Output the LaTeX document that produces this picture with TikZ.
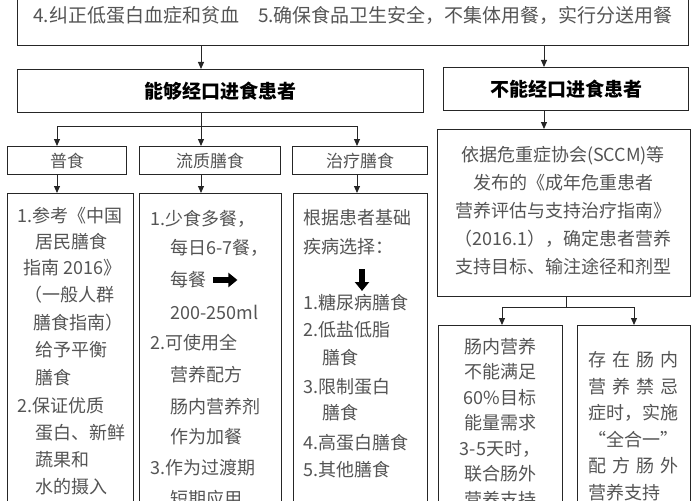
\documentclass[tikz,border=0pt]{standalone}
\usepackage{fontspec}
\setmainfont{Noto Sans CJK SC}
\usetikzlibrary{arrows.meta,positioning}

\begin{document}
\begin{tikzpicture}[x=1pt,y=-1pt,
    box/.style={draw=kLine,line width=1pt,inner sep=0pt,anchor=north west},
    link/.style={draw=kLine,line width=1pt},
    arr/.style={link,-{Triangle[length=7pt,width=6pt]}},
    fat/.style={draw=black,line width=6pt,-{Triangle[length=9pt,width=14pt]}},
    body/.style={text=kText,inner sep=0pt,font=\fontsize{18}{18}\selectfont},
    label/.style={text=kText,font=\fontsize{17}{17}\selectfont},
    title/.style={text=black,font=\fontsize{19}{19}\selectfont\bfseries}]
  \definecolor{kLine}{rgb}{0.15,0.15,0.15}
  \definecolor{kText}{rgb}{0.33,0.33,0.33}

  \useasboundingbox (0,0) rectangle (700,500);
  \clip (0,0) rectangle (700,500);

  % boxes
  \node[box,minimum width=671,minimum height=85] (top) at (17,-40) {};
  \node[body,font=\fontsize{19}{19}\selectfont] (toptxt) at (353,15)
    {4.纠正低蛋白血症和贫血\quad 5.确保食品卫生安全，不集体用餐，实行分送用餐};

  \node[box,title,minimum width=406,minimum height=43] (able) at (17,69) {能够经口进食患者};
  \node[box,title,minimum width=245,minimum height=43] (unable) at (443,67) {不能经口进食患者};

  \node[box,label,minimum width=119,minimum height=28] (pu) at (7,146) {普食};
  \node[box,label,minimum width=141,minimum height=28] (liu) at (139,146) {流质膳食};
  \node[box,label,minimum width=135,minimum height=28] (zhi) at (292,146) {治疗膳食};

  \node[box,minimum width=126,minimum height=330] (pu-b) at (7,193) {};
  \node[box,minimum width=142,minimum height=330] (liu-b) at (139,193) {};
  \node[box,minimum width=134,minimum height=330] (zhi-b) at (293,193) {};

  \node[box,minimum width=253,minimum height=167] (guide) at (437,129) {};
  \node[box,minimum width=124,minimum height=200] (en) at (438,325) {};
  \node[box,minimum width=113,minimum height=200] (par) at (577,325) {};

  % connectors
  \coordinate (xa) at (201,0);
  \coordinate (xb) at (544,0);
  \coordinate (xp) at (57,0);
  \coordinate (xq) at (357,0);
  \coordinate (xr) at (566,0);
  \coordinate (xs) at (502,0);
  \coordinate (xt) at (634,0);
  \coordinate (split) at (201,126);
  \coordinate (split2) at (566,307);

  \draw[arr] (top.south -| xa) -- (able.north -| xa);
  \draw[arr] (top.south -| xb) -- (unable.north -| xb);
  \draw[arr] (unable.south -| xb) -- (guide.north -| xb);

  \draw[link] (able.south -| xa) -- (split);
  \draw[link] (split -| xp) -- (split -| xq);
  \foreach \n/\c in {pu/xp,liu/xa,zhi/xq}
  {
    \draw[arr] (split -| \c) -- (\n.north -| \c);
    \draw[arr] (\n.south -| \c) -- (\n-b.north -| \c);
  }

  \draw[link] (guide.south -| xr) -- (split2);
  \draw[link] (split2 -| xs) -- (split2 -| xt);
  \draw[arr] (split2 -| xs) -- (en.north -| xs);
  \draw[arr] (split2 -| xt) -- (par.north -| xt);

  % texts
  \foreach \x/\y/\t [count=\i] in {17/216/1.参考《中国, 35/242/居民膳食,
                                   23/268/指南 2016》, 24/295/（一般人群,
                                   33/323/膳食指南）, 35/350/给予平衡,
                                   35/378/膳食, 17/406/2.保证优质,
                                   35/433/蛋白、新鲜, 35/460/蔬果和,
                                   35/487/水的摄入}
    \node[body,anchor=west] (pu\i) at (\x,\y) {\t};

  \foreach \x/\y/\t [count=\i] in {150/219/1.少食多餐，, 170/248/每日6-7餐，,
                                   170/280/每餐, 170/312/200-250ml,
                                   150/343/2.可使用全, 170/375/营养配方,
                                   170/407/肠内营养剂, 170/437/作为加餐,
                                   150/468/3.作为过渡期, 170/499/短期应用}
    \node[body,anchor=west] (liu\i) at (\x,\y) {\t};
  \draw[fat] ([xshift=7pt]liu3.east) -- ++(24,0);

  \foreach \x/\y/\t [count=\i] in {303/218/根据患者基础, 303/247/疾病选择：,
                                   303/303/1.糖尿病膳食, 303/330/2.低盐低脂,
                                   322/358/膳食, 303/387/3.限制蛋白,
                                   322/413/膳食, 303/443/4.高蛋白膳食,
                                   303/470/5.其他膳食}
    \node[body,anchor=west] (zhi\i) at (\x,\y) {\t};
  \draw[fat] (362,269) -- (362,291);

  \node[body,align=center,font=\fontsize{18}{28}\selectfont] (guide-t) at (563,211)
    {依据危重症协会(SCCM)等\\发布的《成年危重患者\\营养评估与支持治疗指南》\\（2016.1），确定患者营养\\支持目标、输注途径和剂型};
  \node[body,align=center,font=\fontsize{18}{25.5}\selectfont] (en-t) at (500,423)
    {肠内营养\\不能满足\\60\%目标\\能量需求\\3-5天时，\\联合肠外\\营养支持};
  \node[body,align=left,font=\fontsize{18}{26.5}\selectfont] (par-t) at (633,426)
    {\makebox[90pt][s]{存\hfill 在\hfill 肠\hfill 内}\\
     \makebox[90pt][s]{营\hfill 养\hfill 禁\hfill 忌}\\
     \makebox[90pt][s]{症时，实施}\\
     \makebox[90pt]{“全合一”}\\
     \makebox[90pt][s]{配\hfill 方\hfill 肠\hfill 外}\\
     营养支持};
\end{tikzpicture}
\end{document}
